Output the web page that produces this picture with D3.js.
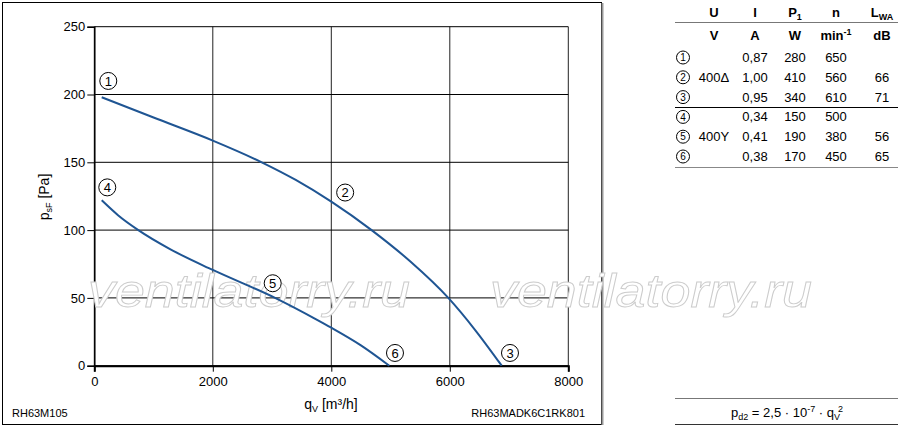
<!DOCTYPE html>
<html>
<head>
<meta charset="utf-8">
<script src="https://cdn.jsdelivr.net/npm/d3@7"></script>
<style>
  body { margin: 0; background: #fff; }
  svg { display: block; font-family: "Liberation Sans", Arial, sans-serif; }
</style>
</head>
<body>
<div id="chart"></div>
<script>
// Data (q in m3/h, p in Pa)
const xTicks = [0, 2000, 4000, 6000, 8000];
const yTicks = [0, 50, 100, 150, 200, 250];

const upperCurve = [
  [125, 198], [1000, 183], [2000, 166], [2826, 150], [3400, 137],
  [4000, 121], [4680, 100], [5330, 77], [5975, 50], [6425, 26.5],
  [6876, 0]
];
const lowerCurve = [
  [125, 122], [400, 111], [743, 100], [1278, 86], [2000, 70.6],
  [3050, 50], [3752, 34], [4000, 28], [4500, 15], [4979, 0]
];

// curve labels: number, q, p
const curveLabels = [
  ["1", 236, 210], ["2", 4234, 127.7], ["3", 7016, 9.4],
  ["4", 219, 131.5], ["5", 3011, 60.8], ["6", 5075, 9.4]
];

// table
const tableNums = ["1", "2", "3", "4", "5", "6"];
const tableU = ["", "400Δ", "", "", "400Y", ""];
const tableI = ["0,87", "1,00", "0,95", "0,34", "0,41", "0,38"];
const tableP = ["280", "410", "340", "150", "190", "170"];
const tableN = ["650", "560", "610", "500", "380", "450"];
const tableL = ["", "66", "71", "", "56", "65"];

const W = 900, H = 429;
const svg = d3.select("#chart").append("svg")
    .attr("width", W)
    .attr("height", H);

const x = d3.scaleLinear().domain([0, 8000]).range([94.3, 568.3]);
const y = d3.scaleLinear().domain([0, 250]).range([365.7, 26.7]);

// outer frame
svg.append("rect")
    .attr("x", 2.5).attr("y", 2.5)
    .attr("width", 599).attr("height", 422)
    .attr("fill", "none").attr("stroke", "#000").attr("stroke-width", 1);
svg.append("line")
    .attr("x1", 602.5).attr("x2", 602.5).attr("y1", 3).attr("y2", 425)
    .attr("stroke", "#999").attr("stroke-width", 2);

// grid
const grid = svg.append("g");
grid.selectAll(".vg").data(xTicks).join("line")
    .attr("x1", d => x(d)).attr("x2", d => x(d))
    .attr("y1", y(250)).attr("y2", y(0))
    .attr("stroke", "#222").attr("stroke-width", 1);
grid.selectAll(".hg").data(yTicks).join("line")
    .attr("x1", x(0)).attr("x2", x(8000))
    .attr("y1", d => y(d)).attr("y2", d => y(d))
    .attr("stroke", "#000").attr("stroke-width", 1);

// axes
const xAxis = svg.append("g")
    .attr("transform", `translate(0,${y(0)})`)
    .call(d3.axisBottom(x).tickValues(xTicks).tickSize(6).tickPadding(5).tickFormat(d3.format("d")));
const yAxis = svg.append("g")
    .attr("transform", `translate(${x(0)},0)`)
    .call(d3.axisLeft(y).tickValues(yTicks).tickSize(7).tickPadding(2).tickFormat(d3.format("d")));
[xAxis, yAxis].forEach(a => {
  a.select(".domain").attr("stroke", "#000").attr("stroke-width", 2);
  a.selectAll("text").attr("font-size", 13).attr("fill", "#000")
      .attr("font-family", "Liberation Sans, Arial, sans-serif");
  a.selectAll(".tick line").attr("stroke", "#000");
});
yAxis.select(".domain").attr("stroke-width", 1.5);

// watermark
const wm = svg.append("g");
[88, 490].forEach(x0 => {
  wm.append("text")
      .attr("x", x0).attr("y", 307)
      .attr("font-size", 46)
      .attr("font-style", "italic")
      .attr("textLength", 322)
      .attr("lengthAdjust", "spacingAndGlyphs")
      .attr("fill", "#fff")
      .attr("stroke", "#cccccc")
      .attr("stroke-width", 0.9)
      .text("ventilatorry.ru");
});

// curves
const line = d3.line()
    .x(d => x(d[0]))
    .y(d => y(d[1]))
    .curve(d3.curveMonotoneX);

svg.selectAll(".curve").data([upperCurve, lowerCurve]).join("path")
    .attr("class", "curve")
    .attr("d", line)
    .attr("fill", "none")
    .attr("stroke", "#1f5593")
    .attr("stroke-width", 2);

// circled labels
function circled(g, cx, cy, r, txt, fs) {
  g.append("circle").attr("cx", cx).attr("cy", cy).attr("r", r)
      .attr("fill", "#fff").attr("stroke", "#000").attr("stroke-width", 1);
  g.append("text").attr("x", cx).attr("y", cy + fs * 0.36)
      .attr("text-anchor", "middle").attr("font-size", fs).text(txt);
}
const lg = svg.append("g");
curveLabels.forEach(d => circled(lg, x(d[1]), y(d[2]), 8.5, d[0], 13));

// axis titles
const yt = svg.append("text")
    .attr("transform", "translate(49,197) rotate(-90)")
    .attr("text-anchor", "middle")
    .attr("font-size", 14);
yt.append("tspan").text("p");
yt.append("tspan").attr("font-size", 9).attr("dy", 3).text("sF");
yt.append("tspan").attr("dy", -3).text(" [Pa]");

const xt = svg.append("text")
    .attr("x", 331).attr("y", 409)
    .attr("text-anchor", "middle")
    .attr("font-size", 14);
xt.append("tspan").text("q");
xt.append("tspan").attr("font-size", 9).attr("dy", 3).text("V");
xt.append("tspan").attr("dy", -3).text(" [m³/h]");

svg.append("text").attr("x", 12).attr("y", 417)
    .attr("font-size", 11).text("RH63M105");
svg.append("text").attr("x", 585).attr("y", 417)
    .attr("text-anchor", "end").attr("font-size", 11).text("RH63MADK6C1RK801");

// table
const tb = svg.append("g").attr("font-size", 13);
const colX = { u: 714, i: 755, p: 795, n: 836, l: 882 };

function header(xc, yb, main, sub, sup) {
  const t = tb.append("text").attr("x", xc).attr("y", yb)
      .attr("text-anchor", "middle").attr("font-weight", "bold");
  t.append("tspan").text(main);
  if (sub) t.append("tspan").attr("font-size", 9).attr("dy", 3).text(sub);
  if (sup) t.append("tspan").attr("font-size", 9).attr("dy", -5).text(sup);
}
header(colX.u, 17, "U");
header(colX.i, 17, "I");
header(colX.p, 17, "P", "1");
header(colX.n, 17, "n");
header(colX.l, 17, "L", "WA");
header(colX.u, 40, "V");
header(colX.i, 40, "A");
header(colX.p, 40, "W");
header(colX.n, 40, "min", null, "-1");
header(colX.l, 40, "dB");

const rowY = i => 62 + i * 19.8;
tableNums.forEach((num, i) => {
  const yb = rowY(i);
  circled(tb, 683, yb - 4.5, 6.5, num, 10);
  [[colX.u, tableU[i]], [colX.i, tableI[i]], [colX.p, tableP[i]],
   [colX.n, tableN[i]], [colX.l, tableL[i]]].forEach(([cx, v]) => {
    tb.append("text").attr("x", cx).attr("y", yb)
        .attr("text-anchor", "middle").text(v);
  });
});

const hl = [[22.5, "#777"], [107.5, "#000"], [167.5, "#888"], [398.5, "#777"], [424.5, "#333"]];
hl.forEach(([yy, c]) => {
  svg.append("line").attr("x1", 675).attr("x2", 898)
      .attr("y1", yy).attr("y2", yy)
      .attr("stroke", c).attr("stroke-width", 1);
});

// formula
const f = svg.append("text").attr("x", 787).attr("y", 417)
    .attr("text-anchor", "middle").attr("font-size", 13);
f.append("tspan").text("p");
f.append("tspan").attr("font-size", 9).attr("dy", 3).text("d2");
f.append("tspan").attr("dy", -3).text(" = 2,5 · 10");
f.append("tspan").attr("font-size", 9).attr("dy", -5).text("-7");
f.append("tspan").attr("dy", 5).text(" · q");
f.append("tspan").attr("font-size", 9).attr("dy", 3).text("V");
f.append("tspan").attr("font-size", 9).attr("dy", -8).attr("dx", -2).text("2");
</script>
</body>
</html>
